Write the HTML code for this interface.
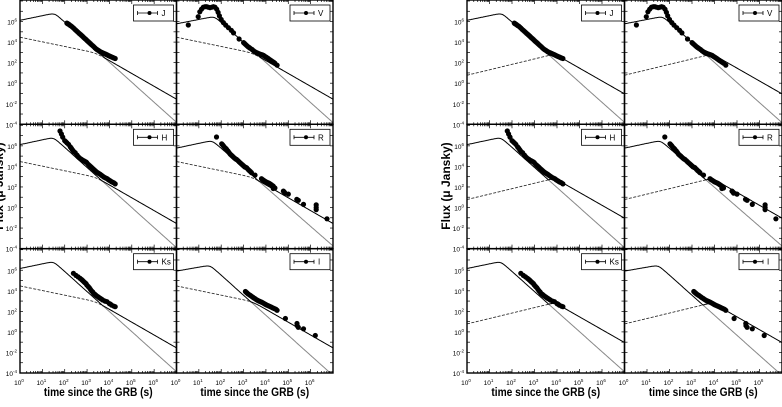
<!DOCTYPE html>
<html><head><meta charset="utf-8"><style>
html,body{margin:0;padding:0;background:#fff}
svg{display:block;font-family:"Liberation Sans",sans-serif}
</style></head><body>
<svg id="fig" width="782" height="407" viewBox="0 0 782 407" xmlns="http://www.w3.org/2000/svg"></svg>
<script>
// ---- data (log10 t [s], log10 flux [µJy]) ----
const bands = ["J","V","H","R","Ks","I"];
const dataJ_t = [2.1,2.13,2.16,2.2,2.25,2.3,2.35,2.4,2.45,2.5,2.55,2.6,2.65,2.7,2.75,2.8,2.85,2.9,2.95,3.0,3.05,3.1,3.15,3.2,3.25,3.3,3.35,3.4,3.45,3.5,3.55,3.6,3.65,3.7,3.75,3.8,3.85,3.9,3.95,4.0,4.05,4.1,4.15,4.2,4.26];
const dataJ_f = [5.85,5.8,5.76,5.7,5.62,5.55,5.45,5.35,5.25,5.15,5.05,4.95,4.85,4.75,4.65,4.55,4.45,4.35,4.25,4.15,4.05,3.95,3.85,3.75,3.65,3.55,3.45,3.35,3.27,3.2,3.12,3.05,3.0,2.95,2.9,2.85,2.8,2.75,2.7,2.65,2.6,2.55,2.5,2.45,2.4];
const dataV_t = [0.53,0.97,1.04,1.12,1.2,1.28,1.35,1.42,1.5,1.58,1.65,1.72,1.8,1.86,1.92,2.0,2.1,2.2,2.32,2.45,2.55,2.8,3.0,3.05,3.1,3.15,3.2,3.25,3.3,3.38,3.45,3.5,3.55,3.6,3.65,3.7,3.75,3.8,3.85,3.9,3.95,4.0,4.05,4.1,4.15,4.2,4.25,4.3,4.35,4.4,4.5];
const dataV_f = [5.66,6.47,6.95,7.2,7.4,7.45,7.45,7.4,7.35,7.4,7.45,7.4,7.2,6.9,6.55,6.2,5.9,5.65,5.4,5.15,4.9,4.3,3.95,3.85,3.75,3.65,3.55,3.47,3.4,3.28,3.15,3.07,3.0,2.95,2.9,2.85,2.82,2.78,2.74,2.7,2.62,2.55,2.48,2.4,2.33,2.25,2.18,2.1,2.03,1.95,1.75];
const dataH_t = [1.79,1.85,1.91,2.0,2.05,2.1,2.17,2.25,2.3,2.35,2.4,2.47,2.55,2.6,2.65,2.7,2.75,2.8,2.85,2.9,2.95,2.99,3.05,3.1,3.15,3.2,3.25,3.3,3.35,3.4,3.45,3.5,3.55,3.59,3.65,3.7,3.75,3.8,3.85,3.9,3.95,4.0,4.05,4.1,4.15,4.2,4.26];
const dataH_f = [7.45,7.15,6.85,6.5,6.4,6.3,6.15,5.9,5.75,5.6,5.45,5.33,5.1,4.95,4.85,4.75,4.68,4.6,4.55,4.5,4.43,4.36,4.2,4.1,4.0,3.9,3.8,3.7,3.6,3.5,3.42,3.35,3.28,3.22,3.12,3.05,2.97,2.9,2.85,2.8,2.72,2.65,2.58,2.5,2.45,2.4,2.3];
const dataR_t = [1.79,2.02,2.06,2.1,2.15,2.2,2.24,2.3,2.35,2.4,2.45,2.5,2.55,2.6,2.65,2.69,2.75,2.8,2.85,2.9,2.95,3.0,3.05,3.1,3.14,3.2,3.25,3.3,3.35,3.51,3.8,3.85,3.9,3.96,4.0,4.05,4.1,4.15,4.2,4.25,4.3,4.33,4.33,4.36,4.4,4.78,4.82,4.85,5.0,5.38,5.45,5.68,6.25,6.25,6.25,6.73];
const dataR_f = [6.86,6.2,6.1,6.0,5.85,5.75,5.65,5.5,5.35,5.2,5.1,5.0,4.9,4.8,4.72,4.67,4.55,4.45,4.35,4.25,4.15,4.05,3.95,3.9,3.86,3.72,3.6,3.5,3.4,3.15,2.8,2.72,2.65,2.56,2.5,2.45,2.4,2.35,2.28,2.2,2.12,2.07,1.85,1.95,1.9,1.6,1.5,1.4,1.3,0.8,0.7,0.3,0.25,0.0,-0.2,-1.1];
const dataKs_t = [2.39,2.5,2.6,2.69,2.75,2.8,2.85,2.9,2.95,2.99,3.05,3.1,3.15,3.2,3.25,3.29,3.35,3.4,3.45,3.5,3.55,3.59,3.65,3.7,3.8,3.89,4.0,4.05,4.1,4.2,4.26];
const dataKs_f = [5.7,5.5,5.35,5.21,5.1,5.0,4.9,4.8,4.7,4.56,4.42,4.3,4.15,4.0,3.88,3.75,3.65,3.55,3.47,3.4,3.32,3.26,3.18,3.1,3.0,2.94,2.75,2.7,2.6,2.5,2.45];
const dataI_t = [3.08,3.12,3.15,3.2,3.25,3.3,3.35,3.4,3.45,3.5,3.55,3.6,3.65,3.7,3.75,3.8,3.85,3.9,3.95,4.0,4.05,4.1,4.15,4.2,4.25,4.3,4.35,4.4,4.45,4.5,4.87,5.39,5.4,5.45,5.68,6.21];
const dataI_f = [3.93,3.85,3.8,3.7,3.62,3.55,3.47,3.4,3.32,3.25,3.17,3.1,3.05,3.0,2.95,2.9,2.84,2.78,2.72,2.66,2.6,2.55,2.5,2.45,2.4,2.35,2.3,2.25,2.2,2.1,1.3,0.82,0.6,0.45,0.3,-0.35];
const bandData = {J:[dataJ_t,dataJ_f],V:[dataV_t,dataV_f],H:[dataH_t,dataH_f],R:[dataR_t,dataR_f],Ks:[dataKs_t,dataKs_f],I:[dataI_t,dataI_f]};
// reverse shock: [log flux at t=1, log peak flux, log peak time, decay slope]
const revJ=[6.0,6.7,1.55,-1.95], revV=[5.66,6.38,1.7,-1.95], revH=[6.0,6.7,1.5,-1.95];
const revR=[5.66,6.4,1.6,-1.9], revKs=[6.05,6.73,1.5,-1.95], revI=[5.8,6.37,1.5,-1.95];
const revParams={J:revJ,V:revV,H:revH,R:revR,Ks:revKs,I:revI};
// forward shock per group: [log flux at t=1, slope1, log break time, slope2]
const fwdLeft=[4.4,-0.45,3.4,-1.25];
const fwdRight=[0.7,0.53,3.9,-1.25];
const xTicks=[0,1,2,3,4,5,6];
const yTicks=[-4,-2,0,2,4,6];

const NS="http://www.w3.org/2000/svg";
const svg=document.getElementById('fig');
function mk(tag,attrs,parent){const e=document.createElementNS(NS,tag);for(const k in attrs)e.setAttribute(k,attrs[k]);(parent||svg).appendChild(e);return e;}

function revLog(p,lt){const a1=(p[1]-p[0])/p[2];const s=2.5;const x=Math.pow(10,lt-p[2]);
 const v=Math.pow(Math.pow(x,-a1*s)+Math.pow(x,-p[3]*s),-1/s)*Math.pow(2,1/s);return p[1]+Math.log10(v);}
function fwdLog(p,lt){const fb=p[0]+p[1]*p[2];const s=4;const x=Math.pow(10,lt-p[2]);
 const v=Math.pow(Math.pow(x,-p[1]*s)+Math.pow(x,-p[3]*s),-1/s)*Math.pow(2,1/s);return fb+Math.log10(v);}

const groups=[{x0:20,pw:156.5,fwd:fwdLeft},{x0:467,pw:157.5,fwd:fwdRight}];
const rowTop=[0,124.3,248.7], ph=124.3;
const layout=[["J","V"],["H","R"],["Ks","I"]];
let clipId=0;

groups.forEach((g,gi)=>{
 layout.forEach((row,ri)=>{
  row.forEach((band,ci)=>{
   const px=g.x0+ci*g.pw, py=rowTop[ri];
   const X=lt=>px+lt/7*g.pw;
   const Y=lf=>py+1+(8-lf)/12*(ph-1);
   const pg=mk('g',{});
   
   
   const cid='c'+(clipId++);
   const cp=mk('clipPath',{id:cid},pg);mk('rect',{x:px,y:py,width:g.pw,height:ph},cp);
   const cg=mk('g',{'clip-path':'url(#'+cid+')'},pg);
   const rp=revParams[band];
   let cross=7;
   for(let lt=rp[2];lt<=7;lt+=0.01){if(fwdLog(g.fwd,lt)>=revLog(rp,lt)){cross=lt;break;}}
   let dSolidA='',dDash='',dGrey='',dSolidB='';
   for(let lt=0;lt<=7.0001;lt+=0.02){
    const r=revLog(rp,lt),f=fwdLog(g.fwd,lt);
    if(lt<=cross+0.02){dSolidA+=(dSolidA?'L':'M')+X(lt).toFixed(1)+' '+Y(r).toFixed(1);dDash+=(dDash?'L':'M')+X(lt).toFixed(1)+' '+Y(f).toFixed(1);}
    if(lt>=cross-0.02){dGrey+=(dGrey?'L':'M')+X(lt).toFixed(1)+' '+Y(r).toFixed(1);dSolidB+=(dSolidB?'L':'M')+X(lt).toFixed(1)+' '+Y(f).toFixed(1);}
   }
   const l1=mk('path',{d:dDash,fill:'none',stroke:'#333','stroke-width':0.9,'stroke-dasharray':'3,1.5'},cg);
   
   const l2=mk('path',{d:dGrey,fill:'none',stroke:'#888','stroke-width':1},cg);
   
   const l3=mk('path',{d:dSolidA,fill:'none',stroke:'#000','stroke-width':1},cg);
   
   const l4=mk('path',{d:dSolidB,fill:'none',stroke:'#000','stroke-width':1},cg);
   
   const [ts,fs]=bandData[band];
   ts.forEach((t,i)=>{
    const c=mk('circle',{cx:X(t).toFixed(1),cy:Y(fs[i]).toFixed(1),r:2.6,fill:'#000'},cg);
    
   });
   for(let d=0;d<7;d++){
    for(let m=1;m<10;m++){
     const xx=X(d+Math.log10(m));const L=m===1?4:2;
     mk('line',{x1:xx,x2:xx,y1:py+ph,y2:py+ph-L,stroke:'#000','stroke-width':0.7},pg);
     mk('line',{x1:xx,x2:xx,y1:py,y2:py+L,stroke:'#000','stroke-width':0.7},pg);
    }
   }
   for(let lf=-4;lf<=8;lf++){
    const yy=Y(lf);
    mk('line',{x1:px,x2:px+3,y1:yy,y2:yy,stroke:'#000','stroke-width':0.7},pg);
    mk('line',{x1:px+g.pw,x2:px+g.pw-3,y1:yy,y2:yy,stroke:'#000','stroke-width':0.7},pg);
   }
   const fr=mk('rect',{x:px,y:py,width:g.pw,height:ph,fill:'none',stroke:'#000','stroke-width':1.4},pg);
   
   const lx=px+g.pw-43, ly=py+5;
   const lg=mk('g',{},pg);
   
   
   mk('rect',{x:lx,y:ly,width:40,height:16,fill:'#fff',stroke:'#000','stroke-width':0.8},lg);
   mk('line',{x1:lx+4,x2:lx+24,y1:ly+8,y2:ly+8,stroke:'#000','stroke-width':0.8},lg);
   mk('line',{x1:lx+4,x2:lx+4,y1:ly+6,y2:ly+10,stroke:'#000','stroke-width':0.8},lg);
   mk('line',{x1:lx+24,x2:lx+24,y1:ly+6,y2:ly+10,stroke:'#000','stroke-width':0.8},lg);
   mk('circle',{cx:lx+16,cy:ly+8,r:2},lg);
   const lt_=mk('text',{x:lx+28,y:ly+11,'font-size':8},lg);lt_.textContent=band;
   if(ci===0){
    yTicks.forEach(v=>{
     const t=mk('text',{x:px-3,y:Y(v)+3,'font-size':6.5,'text-anchor':'end'},pg);
     
     t.appendChild(document.createTextNode('10'));
     const s=mk('tspan',{'font-size':4.5,dy:-3},t);s.textContent=String(v);
    });
   }
   if(ri===2){
    xTicks.forEach(v=>{
     const t=mk('text',{x:X(v)-1,y:py+ph+12,'font-size':6.5,'text-anchor':'middle'},pg);
     
     t.appendChild(document.createTextNode('10'));
     const s=mk('tspan',{'font-size':4.5,dy:-3},t);s.textContent=String(v);
    });
    const xt=mk('text',{x:px+g.pw/2,y:396,'font-size':12,'font-weight':'bold','text-anchor':'middle',transform:'translate('+(px+g.pw/2)+' 0) scale(0.85 1) translate('+(-(px+g.pw/2))+' 0)'},pg);
    
    xt.textContent='time since the GRB (s)';
   }
  });
 });
 const yx=g.x0-17, yy=186;
 const yt=mk('text',{x:0,y:0,'font-size':12,'font-weight':'bold','text-anchor':'middle',transform:'translate('+yx+' '+yy+') rotate(-90)'});
 
 yt.textContent='Flux (\u03bc Jansky)';
});
</script>
</body></html>
